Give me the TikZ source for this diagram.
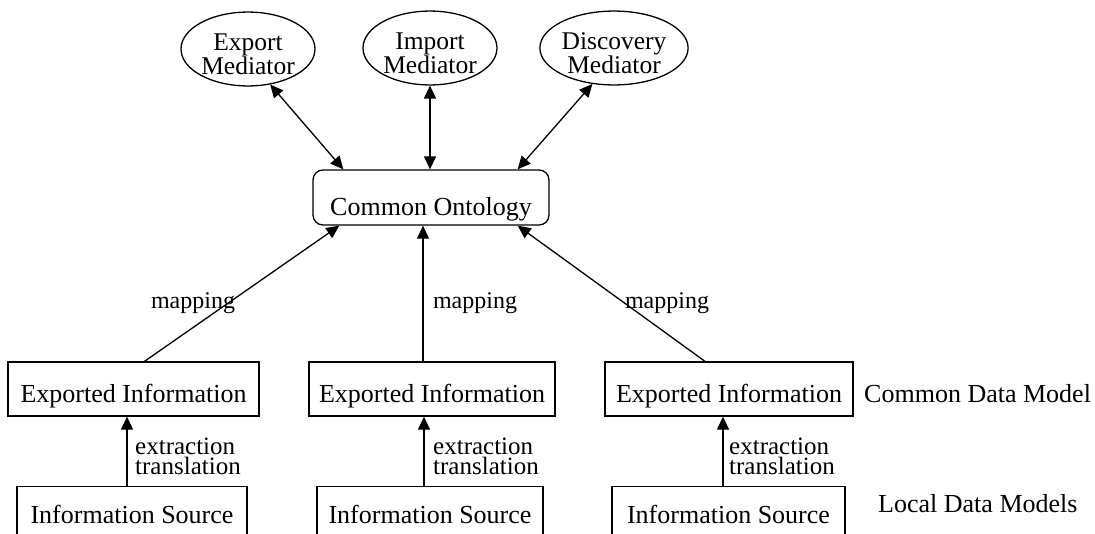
\documentclass[tikz,border=0pt]{standalone}
\usepackage{fontspec}
\setmainfont{Liberation Serif}
\usetikzlibrary{arrows.meta,shapes.geometric,calc}

\begin{document}
\begin{tikzpicture}[x=1pt,y=-1pt,
  every node/.style={font=\fontsize{26pt}{26pt}\selectfont, inner sep=0pt},
  mediator/.style={ellipse, draw, line width=1.3pt, minimum height=68pt, align=center,
                   font=\fontsize{25.5pt}{24pt}\selectfont},
  ontology/.style={rectangle, draw, rounded corners=10pt, line width=1.3pt,
                   minimum width=236pt, minimum height=55pt, text height=35pt, text depth=0pt},
  exported/.style={rectangle, draw, line width=1.3pt, minimum height=54pt,
                   text height=26pt, text depth=0pt},
  source/.style={rectangle, draw, line width=1.3pt, anchor=north, minimum height=56pt,
                 text height=18pt, text depth=0pt},
  lbl/.style={anchor=base, font=\fontsize{24pt}{24pt}\selectfont},
  steplbl/.style={anchor=north west, align=left, font=\fontsize{25pt}{20pt}\selectfont},
  link/.style={line width=1.3pt, -{Triangle[length=13pt,width=12pt]}},
  duallink/.style={line width=1.3pt, {Triangle[length=13pt,width=12pt]}-{Triangle[length=13pt,width=12pt]}},
]
\useasboundingbox (0,0) rectangle (1095,533);
\clip (0,0) rectangle (1095,533);

% mediators (a strut on the first line sets the text a little low)
\node[mediator, minimum width=134pt] (expm) at (248,49) {\rule{0pt}{28pt}Export\\Mediator};
\node[mediator, minimum width=134pt] (impm) at (430,48) {\rule{0pt}{28pt}Import\\Mediator};
\node[mediator, minimum width=142pt] (dism) at (614,48) {\rule{0pt}{28pt}Discovery\\Mediator};

% ontology
\node[ontology] (onto) at (431,197.5) {Common Ontology};

% exported information layer
\node[exported, minimum width=251pt] (exA) at (133.5,389) {Exported Information};
\node[exported, minimum width=246pt] (exB) at (432,389) {Exported Information};
\node[exported, minimum width=248pt] (exC) at (729,389) {Exported Information};

% sources
\node[source, minimum width=230pt] (srcA) at (132,486) {Information Source};
\node[source, minimum width=226pt] (srcB) at (430,486) {Information Source};
\node[source, minimum width=233pt] (srcC) at (728.5,486) {Information Source};

% layer names
\node[anchor=base west] (cdm) at (864,402) {Common Data Model};
\node[anchor=base west] (ldm) at (878,512) {Local Data Models};

% edge labels
\node[lbl] (mapA) at (193,308) {mapping};
\node[lbl] (mapB) at (475,308) {mapping};
\node[lbl] (mapC) at (667,308) {mapping};
\node[steplbl] (stA) at (135,438) {extraction\\translation};
\node[steplbl] (stB) at (433,438) {extraction\\translation};
\node[steplbl] (stC) at (729,438) {extraction\\translation};

% mediator links
\draw[duallink] (expm.-58) -- ([xshift=31pt]onto.north west);
\draw[duallink] (impm.south) -- (impm.south |- onto.north);
\draw[duallink] (dism.-121) -- ([xshift=-32pt]onto.north east);

% mapping links
\coordinate (mB) at ([xshift=-9pt]exB.north);
\draw[link] ([xshift=11pt]exA.north) -- ([xshift=27pt]onto.south west);
\draw[link] (mB) -- (mB |- onto.south);
\draw[link] ([xshift=-24pt]exC.north) -- ([xshift=-32pt]onto.south east);

% extraction links
\coordinate (eA) at ([xshift=-5pt]srcA.north);
\coordinate (eB) at ([xshift=-6pt]srcB.north);
\coordinate (eC) at ([xshift=-5.5pt]srcC.north);
\draw[link] (eA) -- (eA |- exA.south);
\draw[link] (eB) -- (eB |- exB.south);
\draw[link] (eC) -- (eC |- exC.south);
\end{tikzpicture}
\end{document}
